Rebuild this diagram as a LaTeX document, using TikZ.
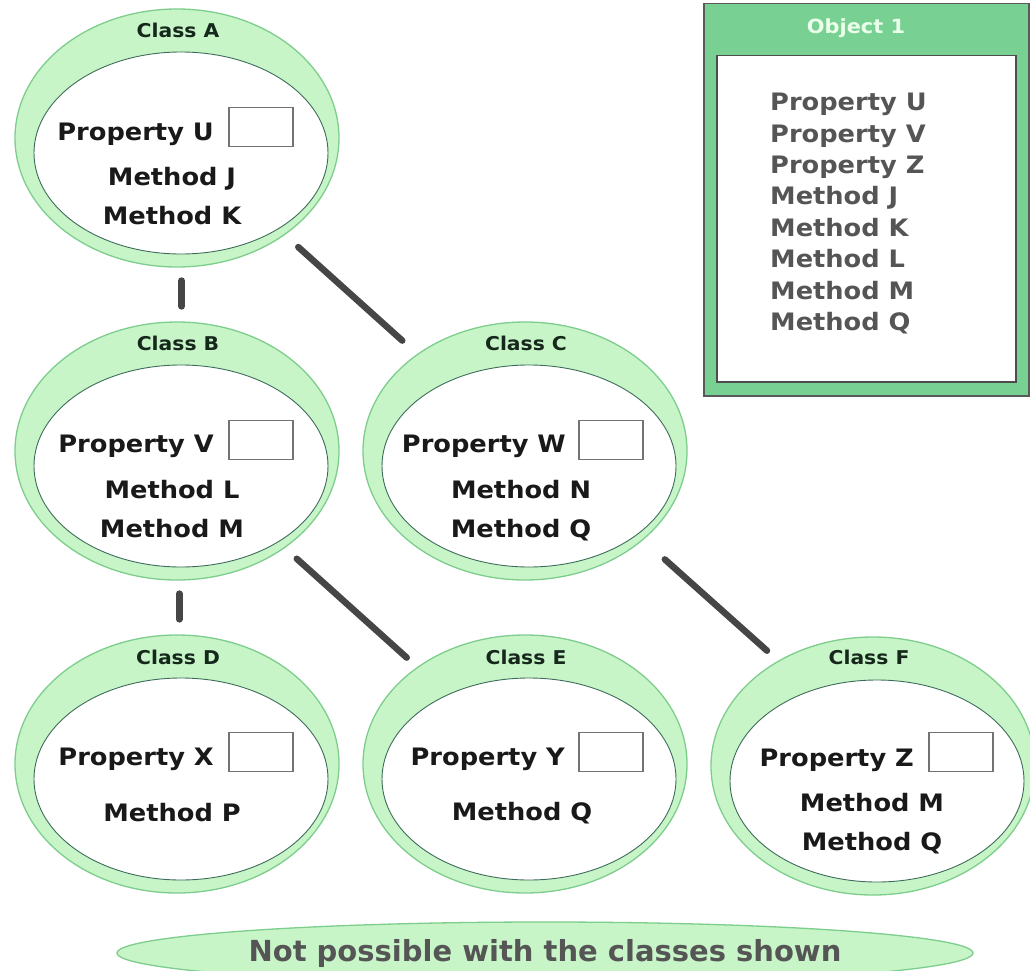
\documentclass[tikz,border=0pt]{standalone}
\usepackage{fontspec}
\setmainfont{DejaVu Sans}[FakeStretch=1.07]
\newfontfamily\notefont{DejaVu Sans}
\usepackage{xcolor}
\usepackage{tikz}
\usetikzlibrary{positioning,shapes.geometric}
\definecolor{ringgreen}{RGB}{200,245,200}
\definecolor{ringedge}{RGB}{125,205,140}
\definecolor{coreedge}{RGB}{62,108,90}
\definecolor{objgreen}{RGB}{120,208,146}
\definecolor{linkgrey}{RGB}{70,70,70}
\definecolor{textgrey}{RGB}{85,85,85}
\definecolor{namegreen}{RGB}{22,40,28}

\begin{document}
\begin{tikzpicture}[x=1pt,y=-1pt,
  every node/.style={font=\bfseries\fontsize{24}{28}\selectfont,text=black!90,inner sep=0pt},
  ring/.style={ellipse,draw=ringedge,fill=ringgreen,line width=1.3pt,
               minimum width=324pt,minimum height=258pt},
  core/.style={ellipse,draw=coreedge,fill=white,line width=.9pt,
               minimum width=294pt,minimum height=202pt},
  classname/.style={font=\bfseries\fontsize{19}{22}\selectfont,text=namegreen},
  slot/.style={draw=black!55,fill=white,line width=1.2pt,
               minimum width=64pt,minimum height=39pt},
  member/.style={anchor=base},
  link/.style={draw=linkgrey,line width=6.5pt,line cap=round,
               shorten <=13pt,shorten >=15pt}]
  \useasboundingbox (0,0) rectangle (1030,971);

  % Class A
  \begin{scope}[shift={(177,138)}]
    \node[ring] (A) at (0,0) {};
    \node[core] (Acore) at (4,15) {};
    \node[classname] (Aname) at (1,-108) {Class A};
    \node[slot] (Aslot) at (84,-11) {};
    \node[anchor=base east] (Aprop) at (37,2) {Property U};
    \node[member] (Am1) at (-5,47) {Method J};
    \node[member] (Am2) at (-5,86) {Method K};
  \end{scope}

  % Class B
  \begin{scope}[shift={(177,451)}]
    \node[ring] (B) at (0,0) {};
    \node[core] (Bcore) at (4,15) {};
    \node[classname] (Bname) at (1,-108) {Class B};
    \node[slot] (Bslot) at (84,-11) {};
    \node[anchor=base east] (Bprop) at (37,1) {Property V};
    \node[member] (Bm1) at (-5,47) {Method L};
    \node[member] (Bm2) at (-5,86) {Method M};
  \end{scope}

  % Class C
  \begin{scope}[shift={(525,451)}]
    \node[ring] (C) at (0,0) {};
    \node[core] (Ccore) at (4,15) {};
    \node[classname] (Cname) at (1,-108) {Class C};
    \node[slot] (Cslot) at (86,-11) {};
    \node[anchor=base east] (Cprop) at (41,1) {Property W};
    \node[member] (Cm1) at (-4,47) {Method N};
    \node[member] (Cm2) at (-4,86) {Method Q};
  \end{scope}

  % Class D
  \begin{scope}[shift={(177,764)}]
    \node[ring] (D) at (0,0) {};
    \node[core] (Dcore) at (4,15) {};
    \node[classname] (Dname) at (1,-107) {Class D};
    \node[slot] (Dslot) at (84,-12) {};
    \node[anchor=base east] (Dprop) at (37,1) {Property X};
    \node[member] (Dm1) at (-5,57) {Method P};
  \end{scope}

  % Class E
  \begin{scope}[shift={(525,764)}]
    \node[ring] (E) at (0,0) {};
    \node[core] (Ecore) at (4,15) {};
    \node[classname] (Ename) at (1,-107) {Class E};
    \node[slot] (Eslot) at (86,-12) {};
    \node[anchor=base east] (Eprop) at (40,1) {Property Y};
    \node[member] (Em1) at (-3,56) {Method Q};
  \end{scope}

  % Class F
  \begin{scope}[shift={(873,766)}]
    \node[ring] (F) at (0,0) {};
    \node[core] (Fcore) at (4,15) {};
    \node[classname] (Fname) at (-4,-109) {Class F};
    \node[slot] (Fslot) at (88,-14) {};
    \node[anchor=base east] (Fprop) at (41,0) {Property Z};
    \node[member] (Fm1) at (-1,45) {Method M};
    \node[member] (Fm2) at (-1,84) {Method Q};
  \end{scope}

  % Inheritance links.
  \draw[link] (A.-88) -- (B.88);
  \draw[link] (B.-89) -- (D.89);
  \draw[link,shorten <=18pt,shorten >=20pt] (A) -- (C);
  \draw[link,shorten <=16pt,shorten >=14pt] (B) -- (E);
  \draw[link,shorten <=29pt,shorten >=15pt] (C.-37.5) -- (F.132);

  % The object that would need all of them.
  \node[draw=black!65,fill=objgreen,line width=1.5pt,anchor=north west,
        minimum width=325pt,minimum height=392pt] (obj) at (703,3) {};
  \node[draw=black!70,fill=white,line width=1.5pt,anchor=north west,
        minimum width=299pt,minimum height=326pt] (objbody) at (716,55) {};
  \node[font=\bfseries\fontsize{19.5}{22}\selectfont,text=green!8] (objname)
    at (856,28) {Object 1};
  \node[anchor=north west,align=left,text=textgrey,
        font=\bfseries\fontsize{24}{31.4}\selectfont] (objlist) at (770,93)
    {Property U\\Property V\\Property Z\\Method J\\Method K\\Method L\\Method M\\Method Q};

  \node[ring,minimum width=856pt,minimum height=62pt,text=textgrey,
        font=\notefont\bfseries\fontsize{29}{32}\selectfont] (note) at (545,953)
    {Not possible with the classes shown};
\end{tikzpicture}
\end{document}
